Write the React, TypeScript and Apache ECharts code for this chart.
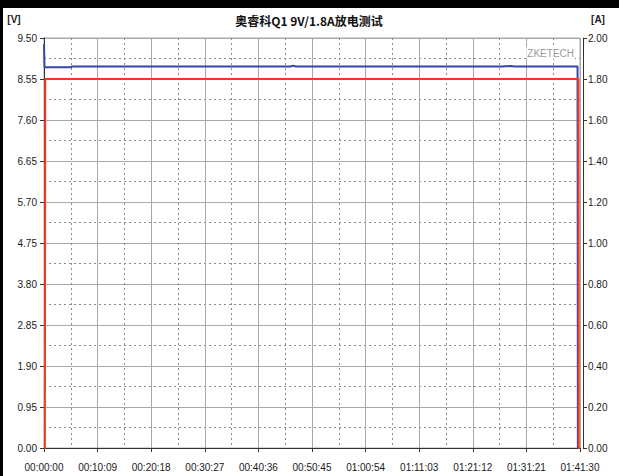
import React, { useEffect, useRef } from "react";
import * as echarts from "echarts";

const titleText = "奥睿科Q1 9V/1.8A放电测试";
const voltageUnit = "[V]";
const currentUnit = "[A]";
const watermark = "ZKETECH";

// time in seconds, voltage in V
const voltageTimes = [0, 6, 300, 320, 2800, 2830, 2860, 5200, 5300, 5350, 6062, 6066, 6090];
const voltageValues = [9.36, 8.82, 8.82, 8.84, 8.84, 8.86, 8.84, 8.84, 8.85, 8.84, 8.84, 0, 0];

// time in seconds, current in A
const currentTimes = [0, 10, 14, 6072, 6076, 6090];
const currentValues = [0, 0, 1.8, 1.8, 0, 0];

const xMin = 0;
const xMax = 6090;
const xInterval = 609;
const vMax = 9.5;
const vInterval = 0.95;
const aMax = 2.0;
const aInterval = 0.2;

function fmtTime(s: number): string {
  const h = Math.floor(s / 3600);
  const m = Math.floor((s % 3600) / 60);
  const sec = Math.round(s % 60);
  const p = (n: number) => String(n).padStart(2, "0");
  return `${p(h)}:${p(m)}:${p(sec)}`;
}

export default function App() {
  const ref = useRef<HTMLDivElement>(null);
  useEffect(() => {
    if (!ref.current) return;
    const chart = echarts.init(ref.current, undefined, { renderer: "svg" });
    const font = "Liberation Sans";
    const labelColor = "#1a1a1a";
    const option: any = {
      animation: false,
      backgroundColor: "#ffffff",
      textStyle: { fontFamily: font },
      grid: {
        left: 44,
        right: 39,
        top: 38,
        bottom: 28,
        show: true,
        borderColor: "#a8a8a8",
        borderWidth: 1,
        backgroundColor: "transparent",
      },
      xAxis: {
        type: "value",
        min: xMin,
        max: xMax,
        interval: xInterval,
        offset: 6,
        axisLine: { show: true, lineStyle: { color: "#333", width: 1 } },
        axisTick: { show: true, length: 4, lineStyle: { color: "#333" } },
        axisLabel: {
          color: labelColor,
          fontSize: 10,
          margin: 8,
          fontFamily: font,
          formatter: (v: number) => fmtTime(v),
        },
        splitLine: { show: true, lineStyle: { color: "#a8a8a8", width: 1 } },
        minorTick: { show: false, splitNumber: 2 },
        minorSplitLine: { show: true, lineStyle: { color: "#8a8a8a", type: [2, 3], width: 1 } },
      },
      yAxis: [
        {
          type: "value",
          min: 0,
          max: vMax,
          interval: vInterval,
          position: "left",
          offset: 3,
          axisLine: { show: true, lineStyle: { color: "#333", width: 1 } },
          axisTick: { show: true, length: 4, lineStyle: { color: "#333" } },
          axisLabel: {
            color: labelColor,
            fontSize: 10,
            margin: 4,
            fontFamily: font,
            formatter: (v: number) => v.toFixed(2),
          },
          splitLine: { show: true, lineStyle: { color: "#a8a8a8", width: 1 } },
          minorTick: { show: false, splitNumber: 2 },
          minorSplitLine: { show: true, lineStyle: { color: "#8a8a8a", type: [2, 3], width: 1 } },
        },
        {
          type: "value",
          min: 0,
          max: aMax,
          interval: aInterval,
          position: "right",
          offset: 3,
          axisLine: { show: true, lineStyle: { color: "#333", width: 1 } },
          axisTick: { show: true, length: 4, lineStyle: { color: "#333" } },
          axisLabel: {
            color: labelColor,
            fontSize: 10,
            margin: 5,
            fontFamily: font,
            formatter: (v: number) => v.toFixed(2),
          },
          splitLine: { show: false },
        },
      ],
      graphic: [
        { type: "rect", left: 0, top: 0, shape: { width: 619, height: 8 }, style: { fill: "#000" }, z: 100 },
        { type: "rect", left: 0, top: 0, shape: { width: 3, height: 476 }, style: { fill: "#000" }, z: 100 },
        {
          type: "text",
          x: 309,
          y: 20,
          style: {
            text: titleText,
            fill: "#111",
            font: `bold 12px "Noto Sans CJK SC", sans-serif`,
            textAlign: "center",
            textVerticalAlign: "middle",
          },
        },
        {
          type: "text",
          x: 14,
          y: 19,
          style: {
            text: voltageUnit,
            fill: "#222",
            font: `bold 10px ${font}`,
            textAlign: "center",
            textVerticalAlign: "middle",
          },
        },
        {
          type: "text",
          x: 598,
          y: 19,
          style: {
            text: currentUnit,
            fill: "#222",
            font: `bold 10px ${font}`,
            textAlign: "center",
            textVerticalAlign: "middle",
          },
        },
        {
          type: "text",
          x: 575,
          y: 53,
          z: 5,
          style: {
            text: watermark,
            fill: "#9a9a9a",
            font: `10px ${font}`,
            textAlign: "right",
            textVerticalAlign: "middle",
            backgroundColor: "#ffffff",
            padding: [1, 1],
          },
        },
      ],
      series: [
        {
          type: "line",
          name: "Voltage",
          yAxisIndex: 0,
          data: voltageTimes.map((t, i) => [t, voltageValues[i]]),
          showSymbol: false,
          lineStyle: { color: "#3646a8", width: 2 },
          itemStyle: { color: "#3646a8" },
          z: 3,
        },
        {
          type: "line",
          name: "Current",
          yAxisIndex: 1,
          data: currentTimes.map((t, i) => [t, currentValues[i]]),
          showSymbol: false,
          lineStyle: { color: "#f23a1e", width: 2 },
          itemStyle: { color: "#f23a1e" },
          z: 4,
        },
      ],
    };
    chart.setOption(option);
    return () => chart.dispose();
  }, []);
  return (
    <div
      ref={ref}
      style={{ position: "fixed", left: 0, top: 0, width: 619, height: 476 }}
    />
  );
}
